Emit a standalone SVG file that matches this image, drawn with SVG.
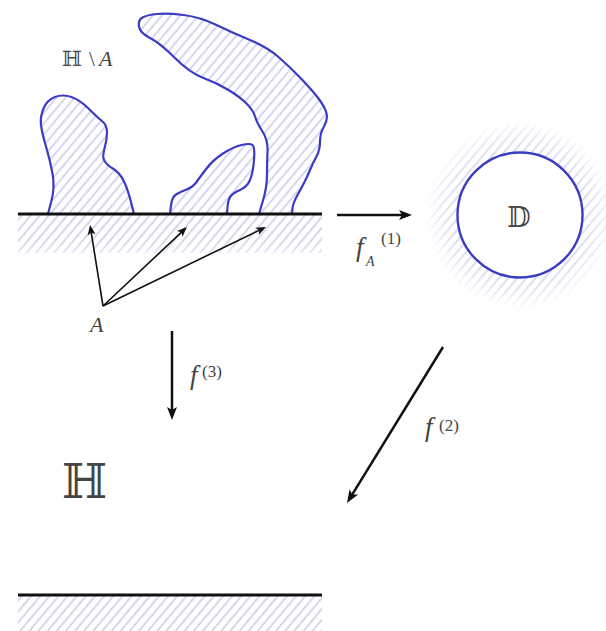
<svg xmlns="http://www.w3.org/2000/svg" width="606" height="631" viewBox="0 0 606 631">
  <style>
    .bound { fill: url(#hatch); stroke: #3b3bc4; stroke-width: 2.2; stroke-linejoin: round; }
    .axis { stroke: #111; stroke-width: 3; fill: none; }
    .arr { stroke: #111; stroke-width: 2.5; fill: none; marker-end: url(#head); }
    .sarr { stroke: #111; stroke-width: 1.6; fill: none; marker-end: url(#shead); }
    .lbl { font-family: "Liberation Serif", "Times New Roman", serif; fill: #444; }
    .it { font-style: italic; }
    .bb { font-family: "DejaVu Serif", "DejaVu Sans", serif; fill: #444; }
  </style>
  <defs>
    <pattern id="hatch" patternUnits="userSpaceOnUse" width="7" height="7" patternTransform="rotate(40)">
      <rect width="7" height="7" fill="#fff"/>
      <line x1="1" y1="0" x2="1" y2="7" stroke="#c3c7e8" stroke-width="1.4"/>
    </pattern>
    <marker id="head" markerUnits="userSpaceOnUse" markerWidth="16" markerHeight="12" refX="9" refY="5" orient="auto" overflow="visible">
      <path d="M0,0 L13,5 L0,10 L3,5 Z" fill="#111"/>
    </marker>
    <marker id="shead" markerUnits="userSpaceOnUse" markerWidth="12" markerHeight="9" refX="7" refY="4" orient="auto" overflow="visible">
      <path d="M0,0 L10,4 L0,8 L2.5,4 Z" fill="#111"/>
    </marker>
    <radialGradient id="ringfade" gradientUnits="userSpaceOnUse" cx="520" cy="215" r="95">
      <stop offset="0.62" stop-color="#fff"/>
      <stop offset="0.8" stop-color="#aaa"/>
      <stop offset="1" stop-color="#000"/>
    </radialGradient>
    <mask id="ringmask">
      <rect x="400" y="100" width="206" height="240" fill="url(#ringfade)"/>
    </mask>
    <linearGradient id="fadeDown" x1="0" y1="0" x2="0" y2="1">
      <stop offset="0.7" stop-color="#fff"/>
      <stop offset="1" stop-color="#888"/>
    </linearGradient>
    <mask id="topmask">
      <rect x="18" y="214" width="304" height="40" fill="url(#fadeDown)"/>
    </mask>
  </defs>

  <g id="upper-half-plane">
    <rect x="18" y="214" width="304" height="39" fill="url(#hatch)" mask="url(#topmask)"/>
    <path class="bound" d="M48,214 L51.5,200.5 Q55,187 52.5,173.5 Q50,160 46,146.5 Q42,133 41,125 Q40,117 43.5,108.5 Q47,100 55,97 Q63,94 71.5,97 Q80,100 88.5,108.5 Q97,117 102,121 Q107,125 107,132.5 Q107,140 104.5,148.5 Q102,157 104.5,161 Q107,165 113.5,169 Q120,173 124,181.5 Q128,190 131,202 L134,214 Z"/>
    <path class="bound" d="M170,214 L171,205.5 Q172,197 176,194.5 Q180,192 186.5,189.5 Q193,187 196.5,182 Q200,177 206.5,168.5 Q213,160 223,153.5 Q233,147 241.5,145 Q250,143 252.5,145 Q255,147 254,160 Q253,173 250,180 Q247,187 240,190 Q233,193 230.5,196.5 Q228,200 227.5,207 L227,214 Z"/>
    <path class="bound" d="M259,214 L263,200.5 Q267,187 267,175 Q267,163 267.5,151.5 Q268,140 262.5,131.5 Q257,123 255,116.5 Q253,110 246.5,103.5 Q240,97 228.5,90 Q217,83 203.5,78 Q190,73 175,58 Q160,43 150,38 Q140,33 139,26.5 Q138,20 142.5,17.5 Q147,15 157,14 Q167,13 183.5,15 Q200,17 216.5,25 Q233,33 250,40 Q267,47 278.5,57 Q290,67 301,78.5 Q312,90 318.5,98.5 Q325,107 326.5,113.5 Q328,120 324,126.5 Q320,133 320,141.5 Q320,150 316.5,156.5 Q313,163 310,170 Q307,177 304.5,182 Q302,187 297.5,195 Q293,203 292.5,208.5 L292,214 Z"/>
    <line class="axis" x1="18" y1="214" x2="322" y2="214"/>
    <text class="bb" x="62" y="66" font-size="21">ℍ</text>
    <text class="lbl" x="89" y="66" font-size="21">\</text>
    <text class="lbl it" x="99" y="66" font-size="22">A</text>
  </g>

  <g id="label-A">
    <text class="lbl it" x="90" y="332" font-size="22">A</text>
  </g>

  <g id="disk">
    <circle cx="520" cy="215" r="95" fill="url(#hatch)" mask="url(#ringmask)"/>
    <circle cx="520" cy="215" r="62.5" fill="#fff" stroke="#3b3bc4" stroke-width="2.4"/>
    <text class="bb" x="519" y="227" font-size="27" text-anchor="middle">𝔻</text>
  </g>

  <g id="half-plane">
    <rect x="18" y="595" width="304" height="36" fill="url(#hatch)"/>
    <line class="axis" x1="18" y1="595" x2="322" y2="595"/>
    <text class="bb" x="62" y="498" font-size="48">ℍ</text>
  </g>

  <g id="connectors">
    <line class="sarr" x1="103" y1="306" x2="90.5" y2="228"/>
    <line class="sarr" x1="103" y1="306" x2="184.8" y2="229.1"/>
    <line class="sarr" x1="103" y1="306" x2="263.3" y2="228.3"/>
    <line class="arr" x1="337" y1="215" x2="408" y2="215"/>
    <line class="arr" x1="172" y1="331" x2="172" y2="416"/>
    <line class="arr" x1="443" y1="347" x2="349.1" y2="499.6"/>
  </g>

  <g id="labels">
    <text class="lbl it" x="356" y="256" font-size="27">f</text>
    <text class="lbl it" x="366" y="266" font-size="14">A</text>
    <text class="lbl" x="381" y="244" font-size="17">(1)</text>
    <text class="lbl it" x="190" y="384" font-size="27">f</text>
    <text class="lbl" x="202" y="377" font-size="17">(3)</text>
    <text class="lbl it" x="425" y="436" font-size="27">f</text>
    <text class="lbl" x="439" y="431" font-size="17">(2)</text>
  </g>
</svg>
